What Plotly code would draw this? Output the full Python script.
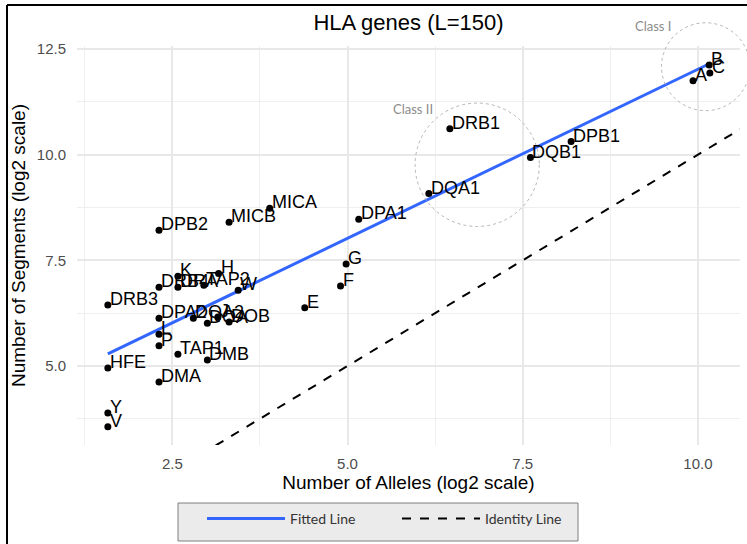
import plotly.graph_objects as go

# ---------------- data ----------------
genes = ["A", "B", "C", "DRB1", "DPB1", "DQB1", "DQA1", "DPA1", "MICA", "MICB",
         "DPB2", "G", "F", "E", "K", "H", "TAP2", "W", "DRB4", "DRA",
         "DRB3", "DPA2", "DQA2", "DOA", "J", "DOB", "L", "P", "TAP1", "DMB",
         "HFE", "DMA", "Y", "V"]
log2_alleles = [9.93, 10.16, 10.17, 6.46, 8.19, 7.61, 6.16, 5.16, 3.89, 3.31,
                2.31, 4.98, 4.90, 4.39, 2.58, 3.16, 2.95, 3.44, 2.31, 2.58,
                1.58, 2.31, 2.80, 3.00, 3.15, 3.31, 2.31, 2.31, 2.58, 3.00,
                1.58, 2.31, 1.58, 1.58]
log2_segments = [11.75, 12.12, 11.93, 10.61, 10.31, 9.93, 9.08, 8.47, 8.73, 8.40,
                 8.21, 7.41, 6.89, 6.38, 7.12, 7.19, 6.91, 6.79, 6.86, 6.86,
                 6.44, 6.13, 6.13, 6.01, 6.16, 6.04, 5.75, 5.48, 5.28, 5.14,
                 4.95, 4.62, 3.89, 3.56]

fit_slope = 0.80
fit_intercept = 4.02

x_range = [1.14, 10.60]
y_range = [3.13, 12.57]
x_ticks = [2.5, 5.0, 7.5, 10.0]
y_ticks = [5.0, 7.5, 10.0, 12.5]

circle_labels = ["Class II", "Class I"]
circle_cx = [6.85, 10.11]
circle_cy = [9.76, 12.08]
circle_rx = [0.886, 0.63]
circle_ry = [1.46, 1.04]
circle_label_x = [5.94, 9.36]
circle_label_y = [11.08, 13.04]

# ---------------- figure ----------------
W, H = 747, 544
M_L, M_R, M_T, M_B = 77, 7, 46, 99
pw = W - M_L - M_R
ph = H - M_T - M_B

fig = go.Figure()

fit_x = [min(log2_alleles), max(log2_alleles)]
fit_y = [fit_intercept + fit_slope * v for v in fit_x]
fig.add_trace(go.Scatter(x=fit_x, y=fit_y, mode="lines", name="Fitted Line",
                         line=dict(color="#3366FF", width=3)))

id_x = list(x_range)
fig.add_trace(go.Scatter(x=id_x, y=id_x, mode="lines", name="Identity Line",
                         line=dict(color="black", width=2, dash="dash")))

fig.add_trace(go.Scatter(x=log2_alleles, y=log2_segments, mode="markers",
                         marker=dict(color="black", size=7), showlegend=False,
                         hoverinfo="skip", cliponaxis=False))


def xd(v):
    return (v - x_range[0]) / (x_range[1] - x_range[0])


def yd(v):
    return (v - y_range[0]) / (y_range[1] - y_range[0])


def px_x(p):
    return (p - M_L) / pw


def px_y(p):
    return (H - M_B - p) / ph


shapes = []
# legend frame
shapes.append(dict(type="rect", xref="paper", yref="paper",
                   x0=px_x(178), x1=px_x(578), y0=px_y(541), y1=px_y(503),
                   fillcolor="#ebebeb", line=dict(color="#7f7f7f", width=1), layer="below"))
for cx, cy, rx, ry in zip(circle_cx, circle_cy, circle_rx, circle_ry):
    shapes.append(dict(type="circle", xref="x domain", yref="y domain",
                       x0=xd(cx - rx), x1=xd(cx + rx), y0=yd(cy - ry), y1=yd(cy + ry),
                       line=dict(color="#b5b5b5", width=1, dash="dot"), layer="above"))

# frame lines on the left and top of the picture
shapes.append(dict(type="line", xref="paper", yref="paper",
                   x0=px_x(7), x1=px_x(7), y0=px_y(5), y1=px_y(H + 2),
                   line=dict(color="black", width=2)))
shapes.append(dict(type="line", xref="paper", yref="paper",
                   x0=px_x(7), x1=px_x(W + 2), y0=px_y(5), y1=px_y(5),
                   line=dict(color="black", width=2)))

annotations = []
for g, gx, gy in zip(genes, log2_alleles, log2_segments):
    annotations.append(dict(x=gx, y=gy, xref="x", yref="y", text=g, showarrow=False,
                            xanchor="left", yanchor="bottom", xshift=1, yshift=-5,
                            borderpad=0,
                            font=dict(family="Liberation Sans, Arial", size=18, color="black")))
for lab, lx, ly in zip(circle_labels, circle_label_x, circle_label_y):
    annotations.append(dict(x=xd(lx), y=yd(ly), xref="x domain", yref="y domain", text=lab,
                            showarrow=False, xanchor="center", yanchor="middle",
                            font=dict(family="Lato", size=13, color="#8c8c8c")))

grid_major = "#e8e8e8"
grid_minor = "#efefef"
fig.update_layout(
    width=W, height=H,
    margin=dict(l=M_L, r=M_R, t=M_T, b=M_B),
    paper_bgcolor="white", plot_bgcolor="white",
    title=dict(text="HLA genes (L=150)", x=0.5, xref="paper", xanchor="center",
               y=1 - 22 / H, yref="container", yanchor="middle",
               font=dict(family="Liberation Sans, Arial", size=22, color="black")),
    xaxis=dict(range=x_range, tickvals=x_ticks, ticktext=[f"{v:.1f}" for v in x_ticks],
               showgrid=True, gridcolor=grid_major, gridwidth=1.6, zeroline=False,
               showline=False, ticks="outside", ticklen=5, tickcolor="rgba(0,0,0,0)",
               tickfont=dict(family="Liberation Sans, Arial", size=15, color="#4d4d4d"),
               minor=dict(tick0=0, dtick=1.25, showgrid=True, gridcolor=grid_minor, gridwidth=1),
               title=dict(text="Number of Alleles (log2 scale)", standoff=3,
                          font=dict(family="Liberation Sans, Arial", size=19, color="black"))),
    yaxis=dict(range=y_range, tickvals=y_ticks, ticktext=[f"{v:.1f}" for v in y_ticks],
               showgrid=True, gridcolor=grid_major, gridwidth=1.6, zeroline=False,
               showline=False, ticks="outside", ticklen=7, tickcolor="rgba(0,0,0,0)",
               tickfont=dict(family="Liberation Sans, Arial", size=15, color="#4d4d4d"),
               minor=dict(tick0=0, dtick=1.25, showgrid=True, gridcolor=grid_minor, gridwidth=1),
               title=dict(text="Number of Segments (log2 scale)", standoff=6,
                          font=dict(family="Liberation Sans, Arial", size=19, color="black"))),
    legend=dict(orientation="h", x=px_x(202), y=px_y(503),
                xanchor="left", yanchor="top", bgcolor="rgba(0,0,0,0)",
                borderwidth=0, font=dict(family="Lato", size=14, color="#333333"),
                itemwidth=78, entrywidth=102, entrywidthmode="pixels"),
    shapes=shapes,
    annotations=annotations,
)

fig.write_html("out.html")
